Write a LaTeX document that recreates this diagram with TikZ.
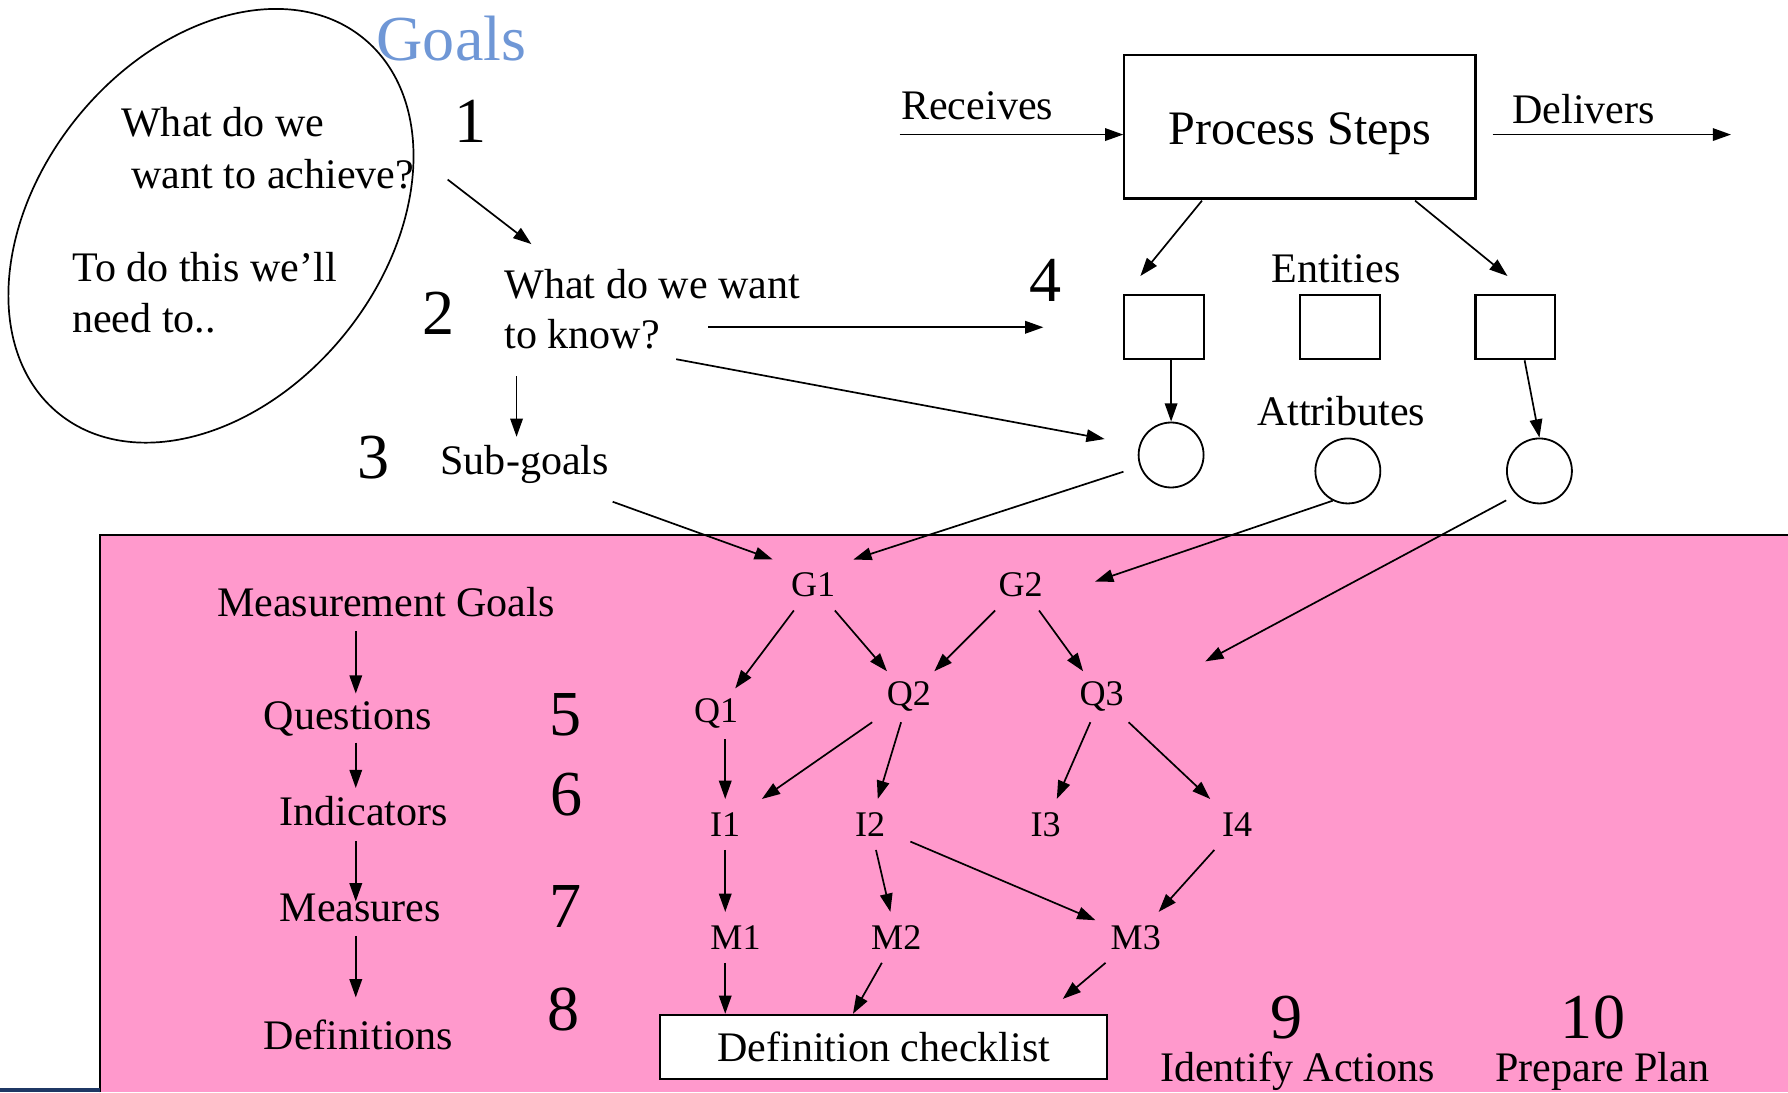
\documentclass[tikz,border=0pt]{standalone}
\usepackage{fontspec}
\setmainfont{Liberation Serif}
\usetikzlibrary{arrows.meta,shapes.geometric}
\definecolor{goalblue}{RGB}{111,151,214}
\definecolor{gqmpink}{RGB}{255,153,204}
\definecolor{barblue}{RGB}{31,56,100}

\begin{document}
\begin{tikzpicture}[x=0.02cm, y=-0.02cm]
		\tikzset{tx/.style={font=\fontsize{21}{25}\selectfont, inner sep=0, anchor=base west}};
		\tikzset{num/.style={font=\fontsize{32}{38}\selectfont, inner sep=0, anchor=base}};
		\tikzset{gqm/.style={font=\fontsize{18}{22}\selectfont, inner sep=0, minimum width=1.4cm, minimum height=0.88cm}};
		\tikzset{ent/.style={draw, line width=1.1pt, minimum width=1.4cm, minimum height=1.12cm, inner sep=0}};
		\tikzset{att/.style={draw, circle, line width=0.9pt, minimum size=1.14cm, inner sep=0}};
		\tikzset{arr/.style={-{Triangle[length=0.32cm, width=0.22cm]}, line width=0.85pt}};

		\useasboundingbox (0,0) rectangle (1568,958);
		\fill[gqmpink] (88,469) rectangle (1568,958);
		\draw[line width=1.1pt] (88,958) -- (88,469) -- (1568,469);
		\fill[barblue] (0,954) rectangle (88,958);

		\node[draw, ellipse, line width=0.85pt, minimum width=8.48cm, minimum height=6.04cm, rotate=51] (goal) at (185,198) {};
		\node[tx, text=goalblue, font=\fontsize{32}{38}\selectfont] (goals) at (330,53) {Goals};
		\node[tx] (aim1) at (106,120) {What do we};
		\node[tx] (aim2) at (115,165) {want to achieve?};
		\node[tx] (need1) at (63,247) {To do this we’ll};
		\node[tx] (need2) at (63,292) {need to..};

		\node[num] (n1) at (413,125) {1};
		\node[num] (n2) at (385,293) {2};
		\node[num] (n3) at (328,420) {3};
		\node[num] (n4) at (917,264) {4};
		\node[num] (n5) at (496,645) {5};
		\node[num] (n6) at (497,715) {6};
		\node[num] (n7) at (496,813) {7};
		\node[num] (n8) at (494,904) {8};
		\node[num] (n9) at (1128,911) {9};
		\node[num] (n10) at (1397,911) {10};

		\node[tx] (know1) at (442,262) {What do we want};
		\node[tx] (know2) at (442,306) {to know?};
		\node[tx] (sub) at (386,416) {Sub-goals};

		\node[tx] (recv) at (790,105) {Receives};
		\node[draw, line width=1.1pt, minimum width=6.16cm, minimum height=2.52cm, text height=18.2pt, text depth=0pt, font=\fontsize{24}{28}\selectfont] (proc) at (1140,111) {Process Steps};
		\node[tx] (deliv) at (1326,108) {Delivers};
		\node[tx] (ents) at (1115,248) {Entities};
		\node[ent] (e1) at (1021,287) {};
		\node[ent] (e2) at (1175,287) {};
		\node[ent] (e3) at (1329,287) {};
		\node[tx] (attrs) at (1102,373) {Attributes};
		\node[att] (c1) at (1027,399) {};
		\node[att] (c2) at (1182,413) {};
		\node[att] (c3) at (1350,413) {};

		\node[tx] (mg) at (190,541) {Measurement Goals};
		\node[tx] (qs) at (231,640) {Questions};
		\node[tx] (ind) at (245,724) {Indicators};
		\node[tx] (meas) at (245,808) {Measures};
		\node[tx] (defs) at (231,920) {Definitions};

		\node[gqm] (g1) at (713,513) {G1};
		\node[gqm] (g2) at (895,513) {G2};
		\node[gqm] (q1) at (628,626) {Q1};
		\node[gqm] (q2) at (797,611) {Q2};
		\node[gqm] (q3) at (966,611) {Q3};
		\node[gqm] (i1) at (636,723) {I1};
		\node[gqm] (i2) at (763,723) {I2};
		\node[gqm] (i3) at (917,723) {I3};
		\node[gqm] (i4) at (1085,723) {I4};
		\node[gqm] (m1) at (645,822) {M1};
		\node[gqm] (m2) at (786,822) {M2};
		\node[gqm] (m3) at (996,822) {M3};

		\node[draw, fill=white, line width=1.1pt, minimum width=7.84cm, minimum height=1.12cm, inner sep=0, font=\fontsize{21}{25}\selectfont] (chk) at (775,918) {Definition checklist};
		\node[tx] (act) at (1017,948) {Identify Actions};
		\node[tx] (plan) at (1311,948) {Prepare Plan};

		\coordinate (lcol) at (312,0);
		\coordinate (rin) at ([shift={(-1,13)}]recv.base west);
		\coordinate (dout) at ([shift={(14,7)}]proc.east);
		\coordinate (dend) at (1518,118);
		\coordinate (kdown) at ([shift={(11,24)}]know2.base west);
		\coordinate (c3end) at (1057,580);
		\coordinate (m3end) at (932,876);

		\draw[arr] (rin) -- (rin -| proc.west);
		\draw[arr] (dout) -- (dend);
		\draw[arr] ([shift={(69,1)}]proc.south west) -- ([shift={(15,-16)}]e1.north west);
		\draw[arr] ([shift={(-54,1)}]proc.south east) -- ([shift={(-7,-16)}]e3.north);
		\draw[arr] (e1.south -| c1) -- (c1.north);
		\draw[arr] ([shift={(8,0)}]e3.south) -- (c3.north);

		\draw[arr] ([shift={(29,5)}]aim2.east) -- ([shift={(24,-22)}]know1.north west);
		\draw[arr] ([shift={(42,-19)}]know2.base east) -- ([shift={(-2,23)}]n4.base);
		\draw[arr] ([shift={(14,9)}]know2.base east) -- ([shift={(-29,-14)}]c1.west);
		\draw[arr, shorten >=0.14cm] (kdown) -- (kdown |- sub.north);

		\draw[arr] ([shift={(3,24)}]sub.base east) -- (g1.north west);
		\draw[arr, shorten <=0.3cm] (c1.200) -- (g1.north east);
		\draw[arr] (c2.243) -- ([shift={(30,-3)}]g2.east);
		\draw[arr, shorten <=0.2cm] (c3.226) -- (c3end);

		\draw[arr, shorten <=0.24cm, shorten >=0.14cm] (mg.south -| lcol) -- (qs.north -| lcol);
		\draw[arr, shorten <=0.1cm, shorten >=0.14cm] (qs.south -| lcol) -- (ind.north -| lcol);
		\draw[arr, shorten <=0.26cm, shorten >=-0.14cm] (ind.south -| lcol) -- (meas.north -| lcol);
		\draw[arr, shorten <=0.24cm, shorten >=0.38cm] (meas.south -| lcol) -- (defs.north -| lcol);

		\draw[arr] (g1) -- (q1);
		\draw[arr] (g1) -- (q2);
		\draw[arr] (g2) -- (q2);
		\draw[arr] (g2) -- (q3);

		\draw[arr] (q1.south -| i1) -- (i1.north);
		\draw[arr] (q2) -- (i1);
		\draw[arr] (q2) -- (i2);
		\draw[arr] (q3) -- (i3);
		\draw[arr] (q3) -- (i4);

		\draw[arr] (i1) -- (i1 |- m1.north);
		\draw[arr] (i2) -- (m2);
		\draw[arr] (i2) -- (m3);
		\draw[arr] (i4) -- (m3);

		\draw[arr] (m1.south -| i1) -- (i1 |- chk.north);
		\draw[arr] (m2) -- ([shift={(-27,0)}]chk.north);
		\draw[arr] (m3) -- (m3end);
	\end{tikzpicture}
\end{document}
